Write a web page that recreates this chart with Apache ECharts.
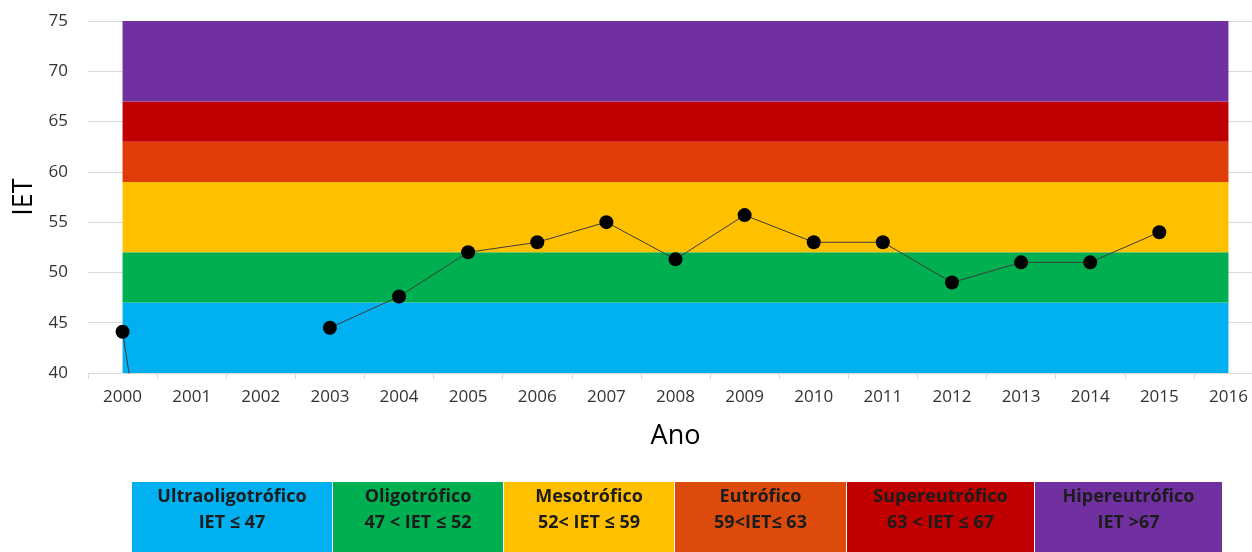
<!DOCTYPE html>
<html lang="pt">

<head>
    <meta charset="UTF-8">
    <title>IET</title>
    <script src="https://cdn.jsdelivr.net/npm/echarts@6.0.0/dist/echarts.min.js"></script>
    <style>
        html, body { margin: 0; padding: 0; background: #fff; overflow: hidden; }
    </style>
</head>

<body>
    <div id="main" style="width: 1266px; height: 552px;"></div>
    <script>
        // anos e valores do IET
        var anos = ['2000', '2001', '2002', '2003', '2004', '2005', '2006', '2007', '2008',
            '2009', '2010', '2011', '2012', '2013', '2014', '2015', '2016'];
        var iet = [44.1, 0, null, 44.5, 47.6, 52.0, 53.0, 55.0, 51.3,
            55.7, 53.0, 53.0, 49.0, 51.0, 51.0, 54.0, null];

        // faixas de classificacao
        var faixaMin = [40, 47, 52, 59, 63, 67];
        var faixaMax = [47, 52, 59, 63, 67, 75];
        var classes = ['Ultraoligotrófico', 'Oligotrófico', 'Mesotrófico', 'Eutrófico', 'Supereutrófico', 'Hipereutrófico'];
        var limites = ['IET ≤ 47', '47 < IET ≤ 52', '52< IET ≤ 59', '59<IET≤ 63', '63 < IET ≤ 67', 'IET >67'];

        var coresFaixa = ['#00b0f0', '#00b050', '#ffc000', '#e03c0a', '#c00000', '#7030a0'];
        var coresLegenda = ['#00b0f0', '#00b050', '#ffc000', '#dd4b0c', '#c00000', '#7030a0'];
        var caixaX = [132, 333, 504, 675, 847, 1035, 1223];

        var chartDom = document.getElementById('main');
        var myChart = echarts.init(chartDom);
        var fonte = '"Open Sans", sans-serif';

        var areas = faixaMin.map(function (lo, i) {
            return [
                { xAxis: anos[0], yAxis: lo, itemStyle: { color: coresFaixa[i] } },
                { xAxis: anos[anos.length - 1], yAxis: faixaMax[i] }
            ];
        });

        var legenda = [];
        classes.forEach(function (nome, i) {
            var x0 = caixaX[i], x1 = caixaX[i + 1] - 1;
            legenda.push({
                type: 'rect',
                shape: { x: x0, y: 482, width: x1 - x0, height: 80 },
                style: { fill: coresLegenda[i] },
                silent: true
            });
            legenda.push({
                type: 'text',
                x: (x0 + x1) / 2, y: 497,
                style: {
                    text: nome, fill: '#1c1c1c', font: 'bold 18px ' + fonte,
                    align: 'center', verticalAlign: 'middle'
                },
                silent: true
            });
            legenda.push({
                type: 'text',
                x: (x0 + x1) / 2, y: 523,
                style: {
                    text: limites[i], fill: '#1c1c1c', font: 'bold 18px ' + fonte,
                    align: 'center', verticalAlign: 'middle'
                },
                silent: true
            });
        });

        var option = {
            animation: false,
            backgroundColor: '#fff',
            grid: { left: 88, top: 21, width: 1175, height: 352, containLabel: false },
            xAxis: {
                type: 'category',
                data: anos,
                boundaryGap: true,
                name: 'Ano',
                nameLocation: 'middle',
                nameGap: 50,
                nameTextStyle: { fontSize: 27, color: '#000', fontFamily: fonte },
                axisLine: { lineStyle: { color: '#d9d9d9', width: 1 } },
                axisTick: { show: true, length: 6, lineStyle: { color: '#d9d9d9' } },
                axisLabel: { interval: 0, fontSize: 17, color: '#333', margin: 16, fontFamily: fonte }
            },
            yAxis: {
                type: 'value',
                min: 40,
                max: 75,
                interval: 5,
                name: 'IET',
                nameLocation: 'middle',
                nameGap: 45,
                nameRotate: 90,
                nameTextStyle: { fontSize: 27, color: '#000', fontFamily: fonte },
                axisLine: { show: false },
                axisTick: { show: false },
                splitLine: { lineStyle: { color: '#d9d9d9', width: 1 } },
                axisLabel: { fontSize: 17, color: '#333', margin: 20, fontFamily: fonte }
            },
            series: [{
                type: 'line',
                data: iet,
                symbol: 'circle',
                symbolSize: 14,
                itemStyle: { color: '#000' },
                lineStyle: { color: '#3c3c3c', width: 1 },
                connectNulls: false,
                clip: true,
                z: 3,
                markArea: {
                    silent: true,
                    z: 1,
                    data: areas
                }
            }],
            graphic: legenda.concat([
                {
                    type: 'text',
                    x: 1139, y: 200,
                    style: {
                        text: 'IET', fill: '#000', font: '27px ' + fonte,
                        align: 'center', verticalAlign: 'middle'
                    },
                    silent: true
                },
                {
                    type: 'line',
                    shape: { x1: 1124, y1: 224, x2: 1113, y2: 241 },
                    style: { stroke: '#000', lineWidth: 1.5 },
                    silent: true
                },
                {
                    type: 'polygon',
                    shape: { points: [[1110, 245], [1110, 236], [1117, 240]] },
                    style: { fill: '#000' },
                    silent: true
                }
            ])
        };

        myChart.setOption(option);
    </script>
</body>

</html>
